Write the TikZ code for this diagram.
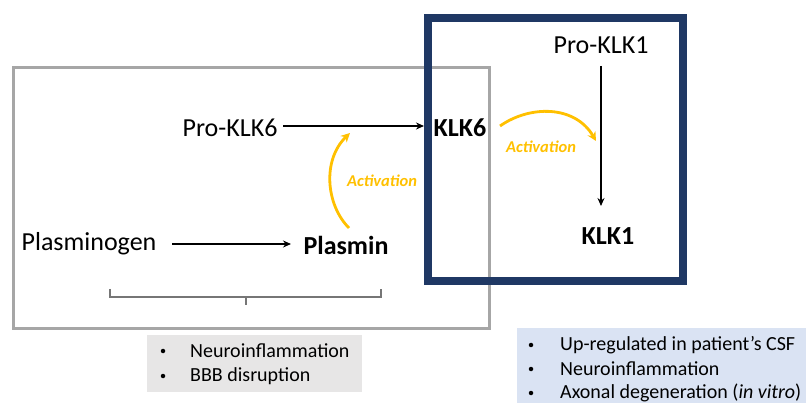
\documentclass[tikz,border=0pt]{standalone}
\usepackage{fontspec}
\setmainfont{Carlito}
\usetikzlibrary{arrows.meta,calc}
\definecolor{navy}{RGB}{31,56,100}
\definecolor{boxgray}{RGB}{166,166,166}
\definecolor{gold}{RGB}{255,192,0}
\definecolor{lightgray}{RGB}{231,230,230}
\definecolor{lightblue}{RGB}{218,227,243}
\definecolor{bracegray}{RGB}{118,118,118}
\begin{document}
\begin{tikzpicture}[x=1pt,y=-1pt,
  lbl/.style={font=\fontsize{26}{30}\selectfont, inner sep=0pt, anchor=center},
  blbl/.style={font=\fontsize{26}{30}\selectfont\bfseries, inner sep=0pt, anchor=center},
  act/.style={font=\fontsize{16.5}{19}\selectfont\bfseries\itshape, text=gold, inner sep=0pt},
  flow/.style={-{Stealth[length=8pt,width=7pt]}, line width=1.5pt},
  actarrow/.style={-{Stealth[length=9pt,width=9pt]}, line width=2.8pt, draw=gold},
  bul/.style={font=\fontsize{20}{24}\selectfont, inner sep=0pt, anchor=west},
  dot/.style={circle, fill=black, inner sep=0pt, minimum size=4.5pt},
  bulbox/.style={inner sep=0pt, anchor=north west, draw=none}]
\useasboundingbox (0,0) rectangle (806,403);
% boxes
\node[draw=boxgray, line width=3pt, minimum width=476pt, minimum height=261pt, anchor=north west, inner sep=0pt] (gbox) at (12,66) {};
\node[draw=navy, line width=8pt, minimum width=255pt, minimum height=263pt, anchor=north west, inner sep=0pt] (nbox) at (424,14) {};
% bullet boxes
\node[bulbox, fill=lightgray, minimum width=215pt, minimum height=57pt] (lbox) at (147,335) {};
\node[bulbox, fill=lightblue, minimum width=289pt, minimum height=75pt] (rbox) at (517,328) {};
\node[dot] (ld1) at (163,351) {};
\node[bul] (lt1) at (190,351) {Neuroinflammation};
\node[dot] (ld2) at (163,376) {};
\node[bul] (lt2) at (190,376) {BBB disruption};
\node[dot] (rd1) at (531,345) {};
\node[bul] (rt1) at (560,345) {Up-regulated in patient’s CSF};
\node[dot] (rd2) at (531,369) {};
\node[bul] (rt2) at (560,369) {Neuroinflammation};
\node[dot] (rd3) at (531,393) {};
\node[bul] (rt3) at (560,393) {Axonal degeneration (\textit{in vitro})};
% labels
\node[lbl] (proklk6) at (230,128) {Pro-KLK6};
\node[blbl] (klk6) at (460,128) {KLK6};
\node[lbl] (proklk1) at (601,45) {Pro-KLK1};
\node[blbl] (klk1) at (608,236) {KLK1};
\node[lbl] (plasminogen) at (89,244) {Plasminogen};
\node[blbl] (plasmin) at (346,245) {Plasmin};
% arrows
\coordinate (a1) at (283,126);
\coordinate (a2) at (424,126);
\draw[flow] (a1) -- (a2);
\coordinate (b1) at (601,66);
\coordinate (b2) at (601,206);
\draw[flow] (b1) -- (b2);
\coordinate (c1) at (172,244);
\coordinate (c2) at (291,244);
\draw[flow] (c1) -- (c2);
% activation arcs
\coordinate (p1) at (349,228);
\coordinate (p2) at (350,133);
\draw[actarrow] (p1) .. controls (326,205) and (322,160) .. (p2);
\node[act] (act1) at (382,181) {Activation};
\coordinate (q1) at (500,126);
\coordinate (q2) at (596,141);
\draw[actarrow] (q1) .. controls (530,105) and (575,105) .. (q2);
\node[act] (act2) at (541,147) {Activation};
% brace
\coordinate (br1) at (110,289);
\coordinate (br2) at (381,289);
\coordinate (brm) at (246,297);
\draw[bracegray, line width=1.6pt] (br1) -- ++(0,8) -- ($(br2)+(0,8)$) -- (br2);
\draw[bracegray, line width=1.6pt] (brm) -- ++(0,8);
\end{tikzpicture}
\end{document}
